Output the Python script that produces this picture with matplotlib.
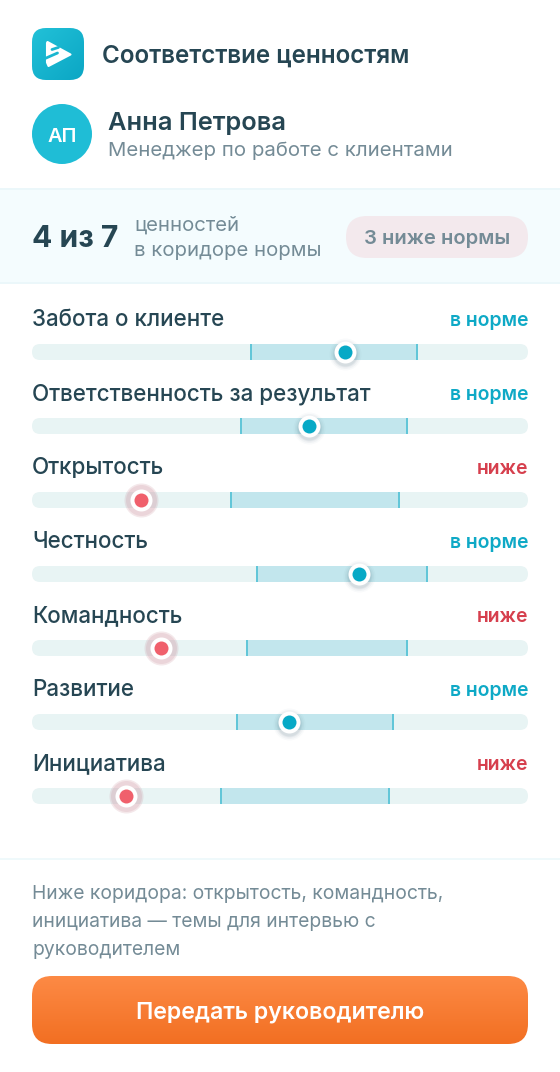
import numpy as np
import matplotlib
matplotlib.use("Agg")
import matplotlib.pyplot as plt
from matplotlib.patches import FancyBboxPatch, Circle, Rectangle, Polygon
from matplotlib.colors import LinearSegmentedColormap

values = ["Забота о клиенте", "Ответственность за результат", "Открытость", "Честность",
          "Командность", "Развитие", "Инициатива"]
corridor_low = [44.2, 42.2, 40.2, 45.4, 43.4, 41.4, 38.1]
corridor_high = [77.6, 75.6, 74, 79.6, 75.6, 72.8, 72]
scores = [63.1, 55.9, 22, 65.9, 26, 51.8, 19]
statuses = ["в норме", "в норме", "ниже", "в норме", "ниже", "в норме", "ниже"]

FONT = "Inter"
INK = "#264653"
GREY = "#748b96"
TEAL = "#0ea9c6"
RED = "#d63f4d"
W, H = 560, 1072

plt.rcParams["font.family"] = [FONT, "DejaVu Sans"]
fig = plt.figure(figsize=(W / 100, H / 100), dpi=100, facecolor="#ffffff")

bg = fig.add_axes([0, 0, 1, 1])
bg.set_xlim(0, W)
bg.set_ylim(H, 0)
bg.axis("off")

def rrect(ax, x0, y0, x1, y1, r, **kw):
    p = FancyBboxPatch((x0 + r, y0 + r), x1 - x0 - 2 * r, y1 - y0 - 2 * r,
                       boxstyle=f"round,pad={r},rounding_size={r}", **kw)
    ax.add_patch(p)
    return p

def gradient(ax, x0, y0, x1, y1, r, c0, c1, diag=False):
    cmap = LinearSegmentedColormap.from_list("g", [c0, c1])
    n = 128
    yy, xx = np.mgrid[0:1:n * 1j, 0:1:n * 1j]
    data = (xx + yy) / 2 if diag else yy
    im = ax.imshow(data, extent=(x0, x1, y1, y0), cmap=cmap, vmin=0, vmax=1,
                   aspect="auto", interpolation="bilinear", zorder=3)
    clip = rrect(ax, x0, y0, x1, y1, r, fc="none", ec="none", zorder=3)
    im.set_clip_path(clip)
    ax.set_xlim(0, W)
    ax.set_ylim(H, 0)

def T(x, y, s, size, color, weight="normal", ha="left", ax=None):
    (ax or bg).text(x, y, s, fontsize=size * 0.72, color=color, fontweight=weight,
                    ha=ha, va="center_baseline", zorder=10)

# bands
bg.add_patch(Rectangle((0, 188), W, 96, fc="#f4fcfe", ec="none", zorder=0))
bg.add_patch(Rectangle((0, 188), W, 2, fc="#ebf7fa", ec="none", zorder=1))
bg.add_patch(Rectangle((0, 282), W, 2, fc="#ebf7fa", ec="none", zorder=1))
bg.add_patch(Rectangle((0, 858), W, 2, fc="#eff9fb", ec="none", zorder=1))

# header
gradient(bg, 32, 28, 84, 80, 14, "#22c1d8", "#0ba6c4", diag=True)
bg.add_patch(Polygon([(47.5, 42), (70.5, 54.5), (48.5, 66), (47, 62.5), (47, 43)],
                     closed=True, fc="white", ec="white", lw=1.5, joinstyle="round", zorder=5))
bg.plot([58.5, 52], [47.4, 49.5], color="#1ab6d0", lw=2.0, solid_capstyle="round", zorder=6)
bg.plot([45, 57.5], [58.5, 53], color="#1ab6d0", lw=2.0, solid_capstyle="round", zorder=6)
T(102, 54, "Соответствие ценностям", 24.2, INK, "semibold")
bg.add_patch(Circle((62, 134), 30, fc="#1fbdd6", ec="none", zorder=3))
T(62, 135, "АП", 20, "white", "semibold", ha="center")
T(108, 121, "Анна Петрова", 25.4, INK, "semibold")
T(108, 149, "Менеджер по работе с клиентами", 20.4, GREY)

# summary
T(32, 236, "4 из 7", 30, INK, "bold")
T(134, 223, "ценностей", 20.3, GREY)
T(134, 249, "в коридоре нормы", 20.3, GREY)
rrect(bg, 346, 216, 528, 258, 21, fc="#f3e9ed", ec="none", zorder=3)
T(437, 237, "3 ниже нормы", 20.2, GREY, "semibold", ha="center")

# chart layer: x is the 0-100 scale, y the row index
TOP, STEP, TRACK = 352, 74, 16
ax = fig.add_axes([32 / W, 1 - 833 / H, 496 / W, (833 - 315) / H], facecolor="none")
ax.set_xlim(0, 100)
ax.set_ylim((833 - TOP) / STEP, (315 - TOP) / STEP)
ax.axis("off")
bar_h = TRACK / STEP
tick_w = 2 / 4.96

for i, name in enumerate(values):
    yc = TOP + STEP * i
    clip = rrect(bg, 32, yc - 8, 528, yc + 8, 8, fc="none", ec="none")
    base = ax.barh(i, 100, height=bar_h, color="#e8f4f4", zorder=1)
    band = ax.barh(i, corridor_high[i] - corridor_low[i], left=corridor_low[i], height=bar_h,
                   color="#c2e6ed", zorder=2)
    l1 = ax.barh(i, tick_w, left=corridor_low[i] - tick_w / 2, height=bar_h, color="#62c6d8", zorder=3)
    l2 = ax.barh(i, tick_w, left=corridor_high[i] - tick_w / 2, height=bar_h, color="#62c6d8", zorder=3)
    for c in [base, band, l1, l2]:
        for r in c:
            r.set_clip_path(clip)
    below = statuses[i] == "ниже"
    col = "#f0606c" if below else "#07a9c6"
    if below:
        ax.scatter(scores[i], i, s=(34 * .72) ** 2, color="#c98c9a", alpha=.2,
                   linewidths=0, zorder=4, clip_on=False)
        ax.scatter(scores[i], i, s=(31 * .72) ** 2, color="#c98c9a", alpha=.2,
                   linewidths=0, zorder=4, clip_on=False)
    else:
        for d, a in zip([32, 29, 26, 24], [.03, .05, .07, .09]):
            ax.scatter(scores[i], i + 1.5 / STEP, s=(d * .72) ** 2, color="#4a7080", alpha=a,
                       linewidths=0, zorder=4, clip_on=False)
    ax.scatter(scores[i], i, s=(22 * .72) ** 2, color="white", linewidths=0, zorder=5, clip_on=False)
    ax.scatter(scores[i], i, s=(14 * .72) ** 2, color=col, linewidths=0, zorder=6, clip_on=False)
    T(32, yc - 34, name, 22.4, INK, "medium")
    T(528, yc - 33, statuses[i], 19.4, RED if below else TEAL, "semibold", ha="right")

# footer
for y, s in zip([892, 920, 948], ["Ниже коридора: открытость, командность,",
                                  "инициатива — темы для интервью с", "руководителем"]):
    T(32, y, s, 19.3, GREY)
gradient(bg, 32, 976, 528, 1044, 20, "#fd8a45", "#f26f22")
T(280, 1010, "Передать руководителю", 23.1, "white", "semibold", ha="center")

fig.savefig("out.png", dpi=100, facecolor=fig.get_facecolor())
